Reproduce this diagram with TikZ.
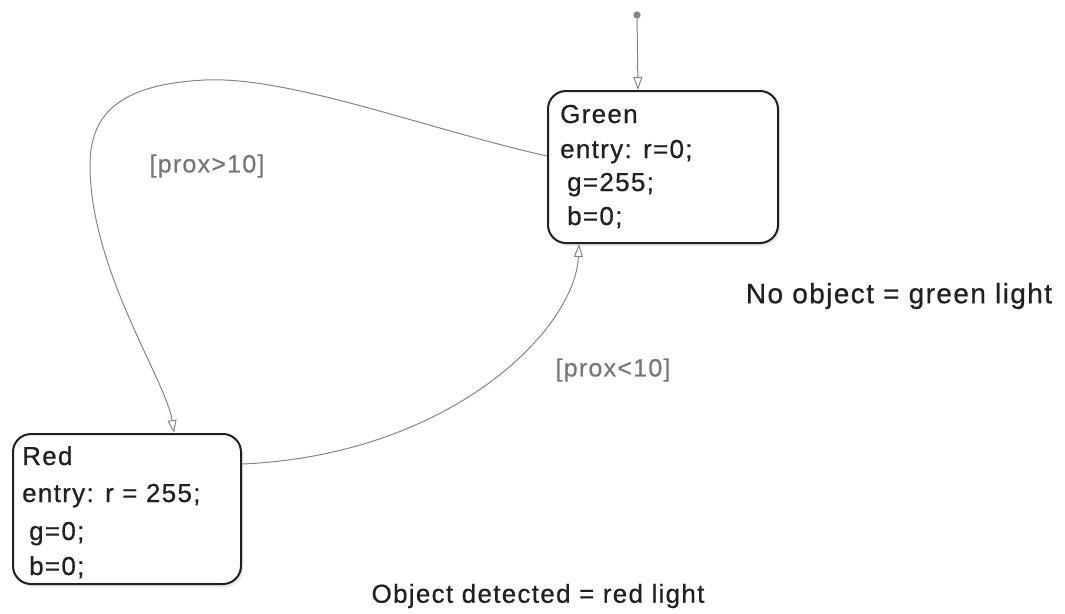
\documentclass[tikz,border=0pt]{standalone}
\usepackage{fontspec}
\setmainfont{Liberation Sans}
\newfontfamily\statefont[LetterSpace=5,FakeBold=0.6]{Liberation Sans}
\usetikzlibrary{arrows.meta,shadows}
\definecolor{ink}{HTML}{202020}
\definecolor{wire}{HTML}{858585}
\definecolor{guard}{HTML}{767676}
\tikzset{
  state/.style={draw=ink, line width=2pt, rounded corners=18pt, fill=white,
    drop shadow={opacity=0.18, shadow xshift=2pt, shadow yshift=-3pt},
    anchor=north west, inner sep=0pt},
  line/.style={anchor=base west, inner sep=0pt, text=ink,
    font=\statefont\fontsize{26}{30}\selectfont},
  trans/.style={draw=wire, line width=1pt,
    -{Triangle[open,length=13pt,width=9pt]}},
  guardtext/.style={text=guard, inner sep=0pt,
    font=\statefont\fontsize{25}{30}\selectfont},
  note/.style={text=ink, inner sep=0pt,
    font=\statefont\fontsize{26}{30}\selectfont},
}
\begin{document}
\begin{tikzpicture}[x=1pt,y=-1pt]
\useasboundingbox (0,0) rectangle (1065,613);

% states
\node[state, minimum width=230pt, minimum height=152pt] (green) at (547,90) {};
\node[state, minimum width=228pt, minimum height=150pt] (red) at (12,433) {};

% state labels and entry actions
\node[line] (gname)  at (560,123) {Green};
\node[line] (gentry) at (560,158) {entry: r=0;};
\node[line] (gg)     at (567,191) {g=255;};
\node[line] (gb)     at (567,225) {b=0;};

\node[line] (rname)  at (22,465) {Red};
\node[line] (rentry) at (22,502) {entry: r = 255;};
\node[line] (rg)     at (29,540) {g=0;};
\node[line] (rb)     at (29,575) {b=0;};

% default transition
\node[circle, fill=wire, inner sep=2.6pt] (init) at (637,15) {};
\draw[trans] (init) -- ([xshift=-25pt]green.north);

% Green -> Red
\coordinate (top) at (205,80);
\coordinate (side) at (90,165);
\draw[trans] ([yshift=11pt]green.west)
  .. controls (430,130) and (290,76) .. (top)
  .. controls (125,84) and (90,110) .. (side)
  .. controls (90,270) and (166,380) .. ([xshift=47pt]red.north);

% Red -> Green
\draw[trans] ([yshift=45pt]red.east)
  .. controls (450,455) and (575,330) .. ([xshift=-84pt]green.south);

% guards
\node[guardtext] (g1) at (207,166) {[prox>10]};
\node[guardtext] (g2) at (613,370) {[prox<10]};

% notes
\node[note, font=\statefont\fontsize{28}{32}\selectfont] (n1) at (899,296) {No object = green light};
\node[note] (n2) at (538,596) {Object detected = red light};
\end{tikzpicture}
\end{document}
